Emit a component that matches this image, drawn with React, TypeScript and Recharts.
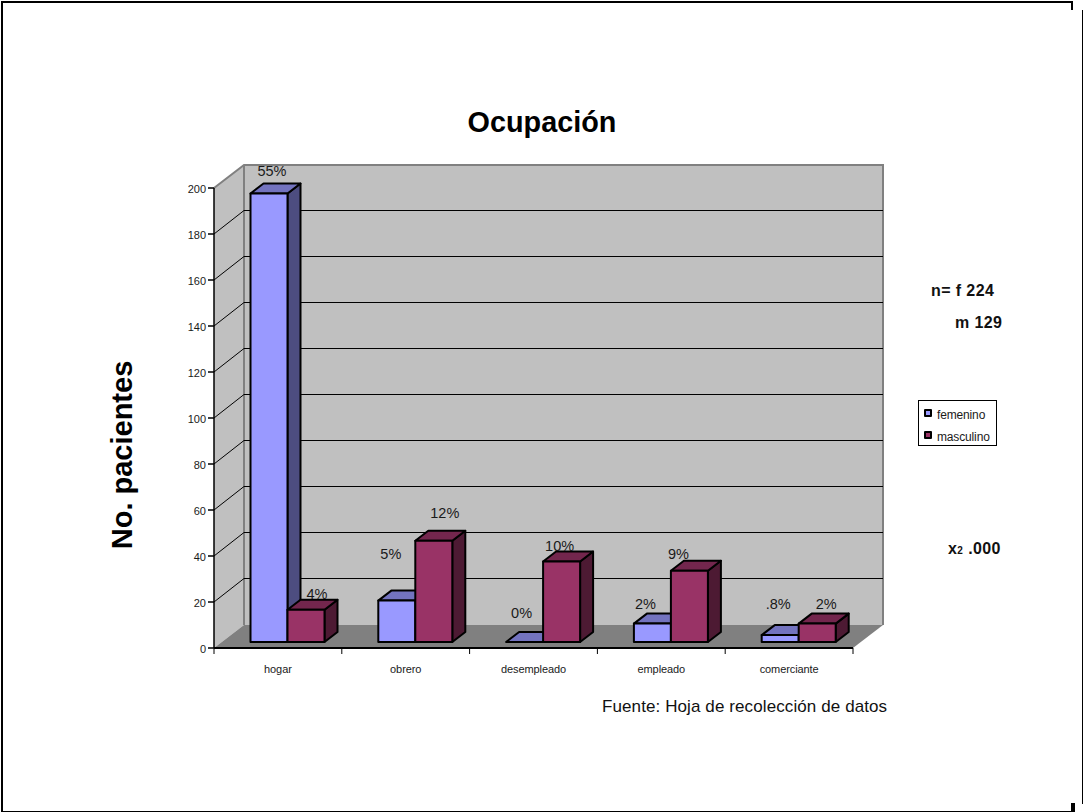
import { BarChart, Bar, XAxis, YAxis, CartesianGrid, Legend, LabelList } from "recharts";

const CATEGORIES = ["hogar", "obrero", "desempleado", "empleado", "comerciante"];
const FEMENINO = [195, 18, 0, 8, 3];
const MASCULINO = [14, 44, 35, 31, 8];
const FEMENINO_PCT = ["55%", "5%", "0%", "2%", ".8%"];
const MASCULINO_PCT = ["4%", "12%", "10%", "9%", "2%"];
const Y_TICKS = [0, 20, 40, 60, 80, 100, 120, 140, 160, 180, 200];

const rows = CATEGORIES.map((name, i) => ({
  name,
  femenino: FEMENINO[i],
  masculino: MASCULINO[i],
  femeninoPct: FEMENINO_PCT[i],
  masculinoPct: MASCULINO_PCT[i],
}));

const FONT = '"Liberation Sans", Arial, sans-serif';

// plot box on the page
const PLOT = { left: 214, right: 853, top: 188, bottom: 648 };
// how far the back wall sits behind the axes
const WALL_DX = 30;
const WALL_DY = -23;
// how far a bar sits behind the axis plane, and the depth of the bar itself
const BAR_DX = 9.5;
const BAR_DY = -6;
const SIDE_DX = 13;
const SIDE_DY = -10;

// hand-placed percentage labels: lift above the bar's top face, sideways nudge
const FEMENINO_LIFT = [8, 32, 14, 5, 16];
const MASCULINO_LIFT = [1, 13, 1, 2, 5];
const FEMENINO_SHIFT = [-3.5, -12.5, -9.5, -13.5, -8.5];
const MASCULINO_SHIFT = [4.5, 4.5, -8.5, -17.5, 2.5];

// walls and floor sit in their own svg under the chart
function Walls() {
  const { left, right, top, bottom } = PLOT;
  const bx = left + WALL_DX;
  const by = WALL_DY;
  return (
    <svg width={1083} height={812} style={{ position: "absolute", left: 0, top: 0 }}>
      <polygon
        points={`${left},${bottom} ${left},${top} ${bx},${top + by} ${bx},${bottom + by}`}
        fill="#C0C0C0"
      />
      <rect x={bx} y={top + by} width={right - left} height={bottom - top} fill="#C0C0C0" />
      <polygon
        points={`${left},${bottom} ${bx},${bottom + by} ${right + WALL_DX},${bottom + by} ${right},${bottom}`}
        fill="#808080"
      />
      <polyline
        points={`${left},${top} ${bx},${top + by} ${right + WALL_DX},${top + by} ${right + WALL_DX},${bottom + by}`}
        fill="none"
        stroke="#808080"
        strokeWidth={2}
      />
      <line x1={bx} y1={top + by} x2={bx} y2={bottom + by} stroke="#808080" strokeWidth={2} />
    </svg>
  );
}

// each grid line runs up the left wall and then across the back wall
function GridLine(props: any) {
  const { x1, x2, y1, index } = props;
  if (y1 >= PLOT.bottom - 1 || y1 <= PLOT.top + 1) return <g key={index} />;
  // half-pixel nudge keeps the 1px line crisp
  const backY = y1 + WALL_DY - 0.5;
  return (
    <polyline
      key={index}
      points={`${x1},${y1} ${x1 + WALL_DX},${backY} ${x2 + WALL_DX},${backY}`}
      fill="none"
      stroke="#000"
      strokeWidth={1}
    />
  );
}

function Bar3D(props: any) {
  const { x, y, width, height, front, topFace, side } = props;
  const l = x + BAR_DX;
  const r = l + width;
  const t = y + BAR_DY;
  const b = t + height;
  return (
    <g stroke="#000" strokeWidth={2} strokeLinejoin="round">
      <polygon
        points={`${r},${b} ${r},${t} ${r + SIDE_DX},${t + SIDE_DY} ${r + SIDE_DX},${b + SIDE_DY}`}
        fill={side}
      />
      <polygon
        points={`${l},${t} ${l + SIDE_DX},${t + SIDE_DY} ${r + SIDE_DX},${t + SIDE_DY} ${r},${t}`}
        fill={topFace}
      />
      {height > 0 && <rect x={l} y={t} width={width} height={height} fill={front} />}
    </g>
  );
}

function pctLabel(lift: number[], shift: number[]) {
  return (props: any) => {
    const { x, y, width, value, index } = props;
    const cx = x + BAR_DX + width / 2 + SIDE_DX / 2 + shift[index];
    const yy = y + BAR_DY + SIDE_DY - lift[index];
    return (
      <text x={cx} y={yy} textAnchor="middle" fontSize={14.5} fontFamily={FONT} fill="#1a1a1a">
        {value}
      </text>
    );
  };
}

// tick marks sit on the category boundaries, labels in the middle
function CategoryTick(props: any) {
  const { x, y, payload, index } = props;
  const band = (PLOT.right - PLOT.left) / CATEGORIES.length;
  const last = index === CATEGORIES.length - 1;
  return (
    <g>
      <line x1={x - band / 2} x2={x - band / 2} y1={PLOT.bottom} y2={PLOT.bottom + 6} stroke="#000" />
      {last && <line x1={x + band / 2} x2={x + band / 2} y1={PLOT.bottom} y2={PLOT.bottom + 6} stroke="#000" />}
      <text x={x} y={y + 17} textAnchor="middle" fontSize={11} letterSpacing={-0.1} fontFamily={FONT} fill="#1a1a1a">
        {payload.value}
      </text>
    </g>
  );
}

function LegendBox({ payload }: any) {
  return (
    <div
      style={{
        width: 79,
        height: 46,
        boxSizing: "border-box",
        border: "1px solid #000",
        background: "#fff",
        fontFamily: FONT,
        fontSize: 12,
        letterSpacing: -0.15,
        color: "#1a1a1a",
        paddingTop: 3,
      }}
    >
      {(payload || []).map((p: any) => (
        <div key={p.value} style={{ display: "flex", alignItems: "center", height: 22, paddingLeft: 5, gap: 5 }}>
          <span
            style={{
              flex: "none",
              width: 4,
              height: 4,
              background: p.color,
              border: "2px solid #000",
              borderRadius: 1,
              marginTop: -4,
            }}
          />
          {p.value}
        </div>
      ))}
    </div>
  );
}

function Note({ left, top, size = 16, bold = true, spacing = 0.4, children }: any) {
  return (
    <div
      style={{
        position: "absolute",
        left,
        top,
        fontFamily: FONT,
        fontSize: size,
        fontWeight: bold ? 700 : 400,
        letterSpacing: spacing,
        color: "#111",
        whiteSpace: "nowrap",
        lineHeight: 1,
      }}
    >
      {children}
    </div>
  );
}

export default function App() {
  return (
    <div style={{ position: "absolute", left: 0, top: 0, width: 1083, height: 812, overflow: "hidden", background: "#fff" }}>
      {/* slide frame */}
      <div style={{ position: "absolute", left: 1, top: 1, width: 1072, height: 2, background: "#000" }} />
      <div style={{ position: "absolute", left: 1, top: 1, width: 2, height: 811, background: "#000" }} />
      <div style={{ position: "absolute", left: 1071, top: 1, width: 2, height: 9, background: "#000" }} />
      <div style={{ position: "absolute", left: 1082, top: 10, width: 1, height: 794, background: "#000" }} />
      <div style={{ position: "absolute", left: 1, top: 811, width: 1072, height: 1, background: "#000" }} />
      <div style={{ position: "absolute", left: 1071, top: 803, width: 4, height: 9, background: "#000" }} />

      <Walls />

      <BarChart
        width={1083}
        height={812}
        data={rows}
        barSize={37}
        barGap={0}
        margin={{ left: 154, right: 230, top: 188, bottom: 134 }}
        style={{ position: "absolute", left: 0, top: 0 }}
      >
        <CartesianGrid vertical={false} horizontal={(p: any) => <GridLine {...p} />} />
        <XAxis
          dataKey="name"
          height={30}
          stroke="#000"
          strokeWidth={2}
          tickLine={false}
          tick={(p: any) => <CategoryTick {...p} />}
          interval={0}
        />
        <YAxis
          width={60}
          domain={[0, 200]}
          ticks={Y_TICKS}
          interval={0}
          stroke="#000"
          strokeWidth={1.5}
          tickSize={6}
          tickMargin={2}
          tick={{ fontSize: 11, fontFamily: FONT, fill: "#1a1a1a", stroke: "none", dy: 1 }}
        />
        <Legend
          layout="horizontal"
          verticalAlign="middle"
          align="center"
          wrapperStyle={{ position: "absolute", left: 918, top: 400, width: 79, height: 46 }}
          content={(p: any) => <LegendBox {...p} />}
        />
        <Bar
          dataKey="femenino"
          name="femenino"
          fill="#9999FF"
          isAnimationActive={false}
          shape={(p: any) => <Bar3D {...p} front="#9999FF" topFace="#7373BF" side="#4D4D80" />}
        >
          <LabelList dataKey="femeninoPct" content={pctLabel(FEMENINO_LIFT, FEMENINO_SHIFT)} />
        </Bar>
        <Bar
          dataKey="masculino"
          name="masculino"
          fill="#993366"
          isAnimationActive={false}
          shape={(p: any) => <Bar3D {...p} front="#993366" topFace="#73264D" side="#4D1A33" />}
        >
          <LabelList dataKey="masculinoPct" content={pctLabel(MASCULINO_LIFT, MASCULINO_SHIFT)} />
        </Bar>
        <text x={542} y={132} textAnchor="middle" fontSize={28.8} fontWeight={700} fontFamily={FONT} fill="#000">
          Ocupación
        </text>
        <text
          x={0}
          y={0}
          transform="translate(132,455) rotate(-90)"
          textAnchor="middle"
          fontSize={29}
          fontWeight={700}
          fontFamily={FONT}
          fill="#000"
        >
          No. pacientes
        </text>
      </BarChart>

      <Note left={931} top={283}>n= f 224</Note>
      <Note left={955} top={315}>m 129</Note>
      <Note left={948} top={541}>
        x<span style={{ fontSize: 10 }}>2</span> .000
      </Note>
      <Note left={602} top={698} size={17} bold={false} spacing={0.1}>
        Fuente: Hoja de recolección de datos
      </Note>
    </div>
  );
}
